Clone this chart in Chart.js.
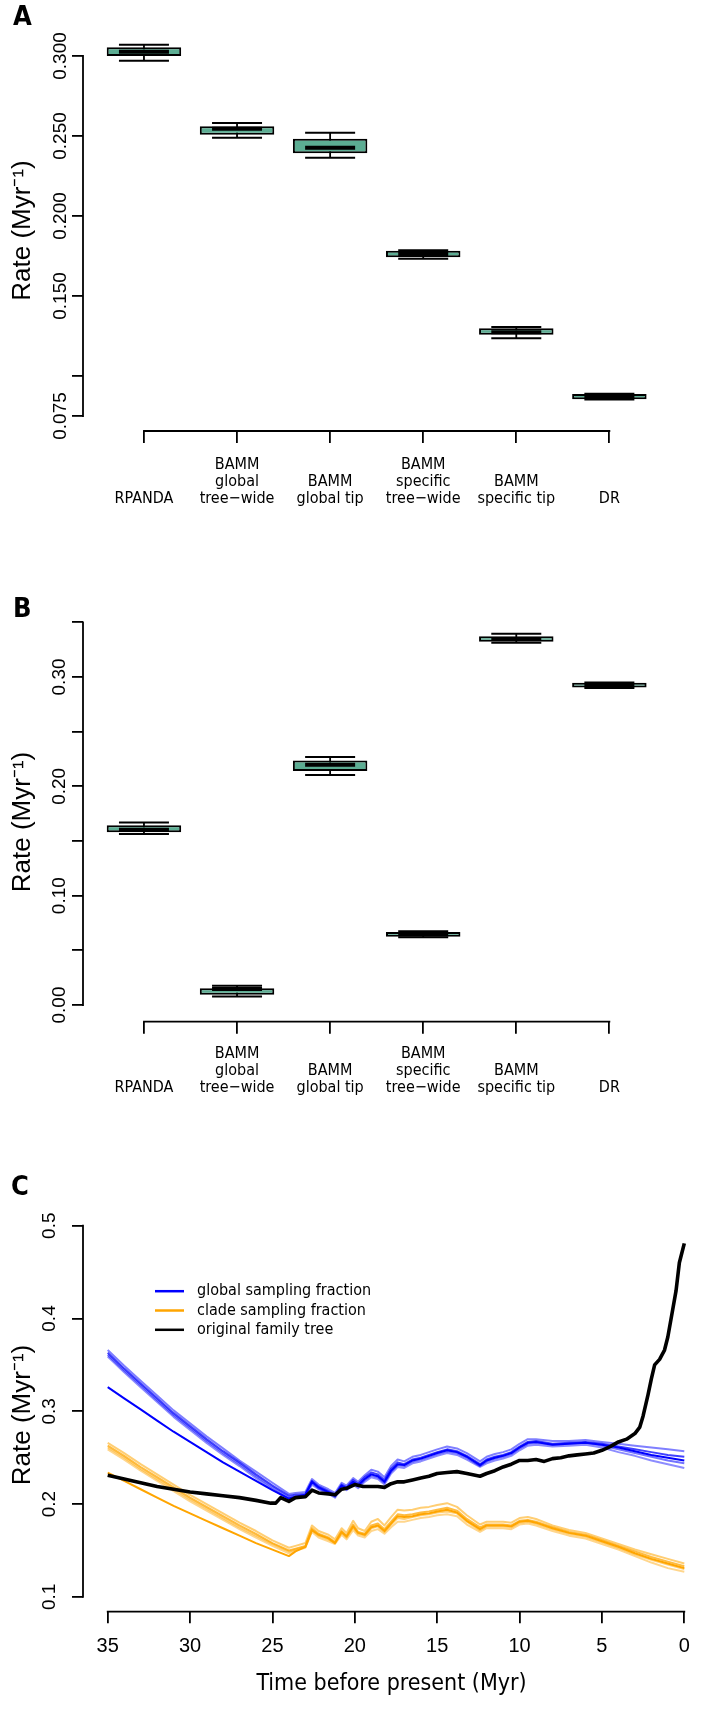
<!DOCTYPE html>
<html>
<head>
<meta charset="utf-8">
<script src="https://cdn.jsdelivr.net/npm/chart.js@4"></script>
<style>
  body { margin: 0; background: #fff; }
  #wrap { position: relative; width: 709px; height: 1730px; }
  canvas { position: absolute; left: 0; }
</style>
</head>
<body>
<div id="wrap">
  <canvas id="chartA" width="709" height="550" style="top:0"></canvas>
  <canvas id="chartB" width="709" height="550" style="top:560px"></canvas>
  <canvas id="chartC" width="709" height="620" style="top:1110px"></canvas>
</div>
<script>
// methods on the x axis of panels A and B (bottom-aligned lines)
const methods = [
  ['', '', 'RPANDA'],
  ['BAMM', 'global', 'tree−wide'],
  ['', 'BAMM', 'global tip'],
  ['BAMM', 'specific', 'tree−wide'],
  ['', 'BAMM', 'specific tip'],
  ['', '', 'DR']
];

// Panel A: box plot summaries
const aLow  = [0.2971, 0.2489, 0.2364, 0.1733, 0.1236, 0.0853];
const aQ1   = [0.3000, 0.2508, 0.2392, 0.1742, 0.1258, 0.0854];
const aMed  = [0.3027, 0.2546, 0.2427, 0.1763, 0.1273, 0.0871];
const aQ3   = [0.3054, 0.2561, 0.2483, 0.1783, 0.1298, 0.0888];
const aHigh = [0.3071, 0.2581, 0.2521, 0.1786, 0.1306, 0.0889];
const aTicks = [0.075, 0.1, 0.15, 0.2, 0.25, 0.3];
const aTickLabels = ['0.075', '', '0.150', '0.200', '0.250', '0.300'];

// Panel B
const bLow  = [0.1563, 0.0078, 0.2103, 0.0619, 0.3314, 0.2900];
const bQ1   = [0.1579, 0.0094, 0.2139, 0.0625, 0.3321, 0.2904];
const bMed  = [0.1602, 0.0147, 0.2198, 0.0648, 0.3347, 0.2924];
const bQ3   = [0.1644, 0.0153, 0.2237, 0.0667, 0.3373, 0.2947];
const bHigh = [0.1670, 0.0176, 0.2269, 0.0674, 0.3396, 0.2950];
const bTicks = [0, 0.05, 0.1, 0.15, 0.2, 0.25, 0.3, 0.35];
const bTickLabels = ['0.00', '', '0.10', '', '0.20', '', '0.30', ''];

// Panel C: rate through time
const time = [35, 34, 33, 32, 31, 30, 29, 28, 27, 26, 25, 24, 23.6, 23, 22.6, 22.2, 21.6, 21.2, 20.8, 20.5,
  20.1, 19.8, 19.4, 19.0, 18.6, 18.2, 17.8, 17.4, 17, 16.5, 16, 15.5, 15, 14.4, 13.8, 13.2, 12.4, 12, 11.5, 11,
  10.5, 10, 9.5, 9, 8, 7, 6, 5, 4, 3, 2, 1, 0];
const blueA = [0.366, 0.349, 0.333, 0.317, 0.301, 0.287, 0.273, 0.260, 0.247, 0.235, 0.223, 0.211, 0.212, 0.213, 0.227, 0.221, 0.216, 0.212, 0.223, 0.220,
  0.228, 0.224, 0.231, 0.237, 0.235, 0.229, 0.241, 0.248, 0.246, 0.251, 0.253, 0.256, 0.259, 0.262, 0.260, 0.255, 0.246, 0.251, 0.254, 0.256,
  0.259, 0.265, 0.270, 0.270, 0.268, 0.268, 0.269, 0.267, 0.265, 0.263, 0.261, 0.259, 0.257];
const blueB = [0.363, 0.346, 0.330, 0.314, 0.298, 0.284, 0.270, 0.257, 0.245, 0.232, 0.220, 0.209, 0.210, 0.211, 0.225, 0.219, 0.214, 0.210, 0.221, 0.218,
  0.226, 0.222, 0.229, 0.234, 0.232, 0.226, 0.238, 0.245, 0.243, 0.248, 0.250, 0.253, 0.256, 0.259, 0.257, 0.252, 0.243, 0.248, 0.251, 0.253,
  0.256, 0.262, 0.267, 0.268, 0.265, 0.266, 0.267, 0.265, 0.262, 0.259, 0.256, 0.253, 0.251];
const blueC = [0.361, 0.344, 0.328, 0.312, 0.296, 0.282, 0.268, 0.255, 0.243, 0.230, 0.218, 0.207, 0.208, 0.209, 0.223, 0.217, 0.212, 0.208, 0.219, 0.216,
  0.223, 0.219, 0.226, 0.231, 0.229, 0.223, 0.235, 0.242, 0.241, 0.246, 0.248, 0.251, 0.254, 0.257, 0.255, 0.250, 0.241, 0.246, 0.249, 0.251,
  0.254, 0.260, 0.265, 0.266, 0.264, 0.265, 0.266, 0.263, 0.259, 0.255, 0.251, 0.247, 0.244];
const blueD = [0.359, 0.342, 0.326, 0.310, 0.294, 0.280, 0.266, 0.253, 0.241, 0.228, 0.216, 0.205, 0.207, 0.208, 0.221, 0.216, 0.211, 0.207, 0.218, 0.215,
  0.221, 0.217, 0.224, 0.229, 0.227, 0.221, 0.233, 0.240, 0.239, 0.244, 0.246, 0.249, 0.252, 0.255, 0.253, 0.248, 0.240, 0.244, 0.247, 0.249,
  0.252, 0.258, 0.263, 0.264, 0.262, 0.263, 0.264, 0.261, 0.256, 0.252, 0.247, 0.243, 0.239];
const blueLow = [0.326, 0.314, 0.302, 0.290, 0.278, 0.267, 0.256, 0.245, 0.235, 0.225, 0.215, 0.206, 0.208, 0.210, 0.224, 0.218, 0.213, 0.209, 0.220, 0.217,
  0.224, 0.220, 0.227, 0.232, 0.230, 0.224, 0.236, 0.243, 0.242, 0.247, 0.249, 0.252, 0.255, 0.258, 0.256, 0.251, 0.242, 0.247, 0.250, 0.252,
  0.255, 0.261, 0.266, 0.267, 0.264, 0.265, 0.266, 0.264, 0.261, 0.257, 0.253, 0.250, 0.247];
const orangeA = [0.266, 0.255, 0.243, 0.232, 0.221, 0.210, 0.200, 0.190, 0.180, 0.171, 0.161, 0.153, 0.155, 0.158, 0.177, 0.171, 0.167, 0.162, 0.174, 0.169,
  0.182, 0.174, 0.171, 0.181, 0.184, 0.177, 0.186, 0.194, 0.193, 0.194, 0.196, 0.197, 0.199, 0.201, 0.197, 0.188, 0.178, 0.181, 0.181, 0.181,
  0.180, 0.185, 0.186, 0.184, 0.177, 0.172, 0.169, 0.163, 0.157, 0.151, 0.146, 0.141, 0.136];
const orangeB = [0.263, 0.252, 0.240, 0.229, 0.218, 0.207, 0.197, 0.187, 0.177, 0.168, 0.158, 0.150, 0.152, 0.155, 0.174, 0.168, 0.164, 0.159, 0.171, 0.166,
  0.178, 0.170, 0.168, 0.177, 0.179, 0.173, 0.181, 0.189, 0.188, 0.189, 0.191, 0.192, 0.194, 0.196, 0.193, 0.184, 0.175, 0.178, 0.178, 0.178,
  0.177, 0.182, 0.183, 0.181, 0.175, 0.170, 0.167, 0.161, 0.155, 0.149, 0.143, 0.138, 0.133];
const orangeC = [0.261, 0.250, 0.238, 0.227, 0.216, 0.205, 0.195, 0.185, 0.175, 0.166, 0.157, 0.149, 0.151, 0.154, 0.172, 0.166, 0.162, 0.158, 0.169, 0.164,
  0.175, 0.168, 0.166, 0.174, 0.176, 0.170, 0.178, 0.185, 0.184, 0.186, 0.188, 0.189, 0.191, 0.192, 0.190, 0.181, 0.172, 0.176, 0.176, 0.176,
  0.175, 0.180, 0.181, 0.179, 0.173, 0.168, 0.165, 0.159, 0.153, 0.146, 0.140, 0.135, 0.130];
const orangeD = [0.259, 0.248, 0.236, 0.225, 0.214, 0.203, 0.193, 0.183, 0.173, 0.164, 0.155, 0.147, 0.150, 0.153, 0.170, 0.164, 0.160, 0.157, 0.167, 0.162,
  0.172, 0.166, 0.164, 0.171, 0.173, 0.168, 0.175, 0.181, 0.181, 0.183, 0.185, 0.186, 0.188, 0.189, 0.187, 0.178, 0.170, 0.174, 0.174, 0.174,
  0.173, 0.178, 0.179, 0.177, 0.171, 0.166, 0.163, 0.157, 0.151, 0.144, 0.137, 0.131, 0.127];
const orangeLow = [0.234, 0.225, 0.216, 0.207, 0.198, 0.190, 0.182, 0.174, 0.166, 0.158, 0.151, 0.144, 0.149, 0.154, 0.172, 0.167, 0.163, 0.158, 0.170, 0.165,
  0.176, 0.169, 0.167, 0.175, 0.177, 0.171, 0.179, 0.187, 0.186, 0.187, 0.189, 0.190, 0.192, 0.194, 0.191, 0.182, 0.173, 0.177, 0.177, 0.177,
  0.176, 0.181, 0.182, 0.180, 0.174, 0.169, 0.166, 0.160, 0.154, 0.147, 0.141, 0.136, 0.131];
const blackTime = [35, 34, 33, 32, 31, 30, 29, 28, 27, 26, 25.1, 24.8, 24.5, 24, 23.6, 23, 22.6, 22.2, 21.6, 21.2, 20.8, 20.5,
  20, 19.5, 19, 18.6, 18.2, 17.8, 17.4, 17, 16.5, 16, 15.5, 15, 14.4, 13.8, 13.2, 12.4, 12, 11.5, 11, 10.5, 10, 9.5, 9, 8.5,
  8, 7.5, 7, 6.5, 6, 5.5, 5, 4.5, 4, 3.5, 3, 2.7, 2.5, 2.2, 2, 1.8, 1.5, 1.2, 1, 0.7, 0.5, 0.3, 0];
const blackRate = [0.231, 0.227, 0.223, 0.219, 0.216, 0.213, 0.211, 0.209, 0.207, 0.204, 0.201, 0.201, 0.207, 0.203, 0.207, 0.208, 0.215, 0.212, 0.211, 0.210, 0.216, 0.217,
  0.221, 0.219, 0.219, 0.219, 0.218, 0.222, 0.224, 0.224, 0.226, 0.228, 0.230, 0.233, 0.234, 0.235, 0.233, 0.230, 0.233, 0.236, 0.240, 0.243, 0.247, 0.247, 0.248, 0.246,
  0.249, 0.250, 0.252, 0.253, 0.254, 0.255, 0.258, 0.262, 0.267, 0.270, 0.276, 0.283, 0.295, 0.318, 0.335, 0.350, 0.356, 0.366, 0.380, 0.410, 0.430, 0.460, 0.481];
const cTicks = [0.1, 0.2, 0.3, 0.4, 0.5];
const cTickLabels = ['0.1', '0.2', '0.3', '0.4', '0.5'];
const timeTicks = [0, 5, 10, 15, 20, 25, 30, 35];
const legendLabels = ['global sampling fraction', 'clade sampling fraction', 'original family tree'];
const legendColors = ['#0000ff', '#ffa500', '#000000'];

const TEAL = '#5cad93';
const NARROW = '"Liberation Sans Narrow", "DejaVu Sans Condensed", "Liberation Sans", sans-serif';
const REGULAR = '"Liberation Sans", Arial, sans-serif';
Chart.defaults.color = '#000';
Chart.defaults.font.family = REGULAR;
Chart.defaults.animation = false;

// axis line only from the first to the last tick, like base R
const rAxes = {
  id: 'rAxes',
  afterDraw(chart) {
    const ctx = chart.ctx;
    ctx.save();
    ctx.strokeStyle = '#000';
    ctx.lineWidth = 1.8;
    ctx.lineCap = 'square';
    for (const scale of Object.values(chart.scales)) {
      const t = scale.ticks;
      const a = scale.getPixelForValue(t[0].value);
      const b = scale.getPixelForValue(t[t.length - 1].value);
      ctx.beginPath();
      if (scale.isHorizontal()) { ctx.moveTo(a, scale.top); ctx.lineTo(b, scale.top); }
      else { ctx.moveTo(scale.right, a); ctx.lineTo(scale.right, b); }
      ctx.stroke();
    }
    ctx.restore();
  }
};

// panel letter
const panelLetter = {
  id: 'panelLetter',
  afterDraw(chart, args, opts) {
    const ctx = chart.ctx;
    ctx.save();
    ctx.font = 'bold 27px ' + NARROW;
    ctx.fillStyle = '#000';
    ctx.textBaseline = 'middle';
    ctx.fillText(opts.text, opts.x, opts.y);
    ctx.restore();
  }
};

// legend of panel C (inside the plot, R style)
const rLegend = {
  id: 'rLegend',
  afterDraw(chart, args, opts) {
    if (!opts.labels) return;
    const ctx = chart.ctx;
    ctx.save();
    ctx.font = '16px ' + NARROW;
    ctx.textBaseline = 'middle';
    opts.labels.forEach((lab, i) => {
      const y = opts.y + i * opts.step;
      ctx.strokeStyle = opts.colors[i];
      ctx.lineWidth = 2.5;
      ctx.beginPath();
      ctx.moveTo(opts.x, y);
      ctx.lineTo(opts.x + 29, y);
      ctx.stroke();
      ctx.fillStyle = '#000';
      ctx.fillText(lab, opts.x + 42, y);
    });
    ctx.restore();
  }
};

function boxDatasets(low, q1, med, q3, high) {
  const stems = [], caps = [];
  low.forEach((v, i) => {
    stems.push({x: i + 1, y: v}, {x: i + 1, y: high[i]}, {x: i + 1, y: null});
    caps.push({x: i + 1, y: v}, {x: i + 1, y: high[i]});
  });
  return [
    { type: 'line', data: stems, borderColor: '#000', borderWidth: 1.8, pointRadius: 0, order: 3, clip: false },
    { type: 'bar', data: q1.map((v, i) => ({x: i + 1, y: [v, q3[i]]})), backgroundColor: TEAL,
      borderColor: '#000', borderWidth: 2, borderSkipped: false, grouped: false,
      categoryPercentage: 1, barPercentage: 0.8, order: 2 },
    { type: 'line', data: caps, showLine: false, pointStyle: 'line', pointRadius: 25,
      pointBorderWidth: 2, pointBorderColor: '#000', order: 1, clip: false },
    { type: 'line', data: med.map((v, i) => ({x: i + 1, y: v})), showLine: false, pointStyle: 'line',
      pointRadius: 25, pointBorderWidth: 4, pointBorderColor: '#000', order: 0, clip: false }
  ];
}

function boxChart(id, letter, data, yMin, yMax, ticks, tickLabels, topPad, xHeight, yPad, xPad) {
  return new Chart(document.getElementById(id), {
    type: 'bar',
    data: { datasets: boxDatasets(...data) },
    options: {
      responsive: false,
      layout: { padding: { top: topPad, right: 9, bottom: 0, left: 0 } },
      plugins: { legend: { display: false }, tooltip: { enabled: false },
        panelLetter: { text: letter.t, x: letter.x, y: letter.y } },
      scales: {
        x: {
          type: 'linear', offset: false, min: 0.3451, max: 6.7588,
          afterBuildTicks: s => { s.ticks = methods.map((m, i) => ({value: i + 1})); },
          afterFit: s => { s.height = xHeight; },
          grid: { display: true, offset: false, drawOnChartArea: false, drawTicks: true, tickLength: 12, color: '#000', lineWidth: 1.8 },
          border: { display: false },
          ticks: { autoSkip: false, maxRotation: 0, minRotation: 0, padding: xPad,
            font: { family: NARROW, size: 16, lineHeight: '16.7px' },
            callback: (v, i) => methods[i] }
        },
        y: {
          type: 'linear', min: yMin, max: yMax, beginAtZero: false,
          afterBuildTicks: s => { s.ticks = ticks.map(v => ({value: v})); },
          afterFit: s => { s.width = 83; },
          grid: { display: true, drawOnChartArea: false, drawTicks: true, tickLength: 11, color: '#000', lineWidth: 1.8 },
          border: { display: false },
          title: { display: true, text: 'Rate (Myr⁻¹)', font: { size: 26 }, padding: { top: 7, bottom: 0 } },
          ticks: { autoSkip: false, minRotation: 90, maxRotation: 90, crossAlign: 'center', padding: yPad,
            font: { size: 19 }, callback: (v, i) => tickLabels[i] }
        }
      }
    },
    plugins: [rAxes, panelLetter]
  });
}

boxChart('chartA', {t: 'A', x: 13, y: 17.5}, [aLow, aQ1, aMed, aQ3, aHigh],
  0.065625, 0.31625, aTicks, aTickLabels, 30, 119, -12.3, 13.6);
boxChart('chartB', {t: 'B', x: 13, y: 50}, [bLow, bQ1, bMed, bQ3, bHigh],
  -0.015274, 0.35, bTicks, bTickLabels, 62.3, 88.3, -6.5, 12);

function series(ts, vs) { return ts.map((t, i) => ({x: t, y: vs[i]})); }
function lineSet(ts, vs, color, width, order) {
  return { type: 'line', data: series(ts, vs), borderColor: color, borderWidth: width, pointRadius: 0,
    tension: 0, borderJoinStyle: 'round', order: order, clip: false };
}

new Chart(document.getElementById('chartC'), {
  type: 'line',
  data: {
    datasets: [
      lineSet(time, orangeA, 'rgba(255,165,0,0.55)', 2, 4),
      lineSet(time, orangeB, 'rgba(255,165,0,0.75)', 2, 4),
      lineSet(time, orangeC, 'rgba(255,165,0,0.55)', 2, 4),
      lineSet(time, orangeD, 'rgba(255,165,0,0.45)', 2, 4),
      lineSet(time, orangeLow, '#ffa500', 2, 4),
      lineSet(time, blueA, 'rgba(0,0,255,0.5)', 2, 3),
      lineSet(time, blueB, 'rgba(0,0,255,0.75)', 2, 3),
      lineSet(time, blueC, 'rgba(0,0,255,0.55)', 2, 3),
      lineSet(time, blueD, 'rgba(0,0,255,0.45)', 2, 3),
      lineSet(time, blueLow, '#0000ff', 2, 3),
      lineSet(blackTime, blackRate, '#000000', 3.6, 1)
    ]
  },
  options: {
    responsive: false,
    layout: { padding: { top: 108.3, right: 9, bottom: 0, left: 0 } },
    plugins: { legend: { display: false }, tooltip: { enabled: false },
      panelLetter: { text: 'C', x: 11, y: 78 },
      rLegend: { labels: legendLabels, colors: legendColors, x: 155, y: 181.2, step: 19.3 } },
    scales: {
      x: {
        type: 'linear', reverse: true, min: -0.953, max: 36.4993,
        afterBuildTicks: s => { s.ticks = timeTicks.map(v => ({value: v})); },
        afterFit: s => { s.height = 118.3; },
        grid: { display: true, drawOnChartArea: false, drawTicks: true, tickLength: 11.6, color: '#000', lineWidth: 1.8 },
        border: { display: false },
        title: { display: true, text: 'Time before present (Myr)', font: { family: NARROW, size: 23 }, padding: { top: 0, bottom: 32 } },
        ticks: { autoSkip: false, maxRotation: 0, padding: 11, font: { size: 20 }, callback: v => String(v) }
      },
      y: {
        type: 'linear', min: 0.08405, max: 0.50797,
        afterBuildTicks: s => { s.ticks = cTicks.map(v => ({value: v})); },
        afterFit: s => { s.width = 83; },
        grid: { display: true, drawOnChartArea: false, drawTicks: true, tickLength: 11, color: '#000', lineWidth: 1.8 },
        border: { display: false },
        title: { display: true, text: 'Rate (Myr⁻¹)', font: { size: 26 }, padding: { top: 7, bottom: 0 } },
        ticks: { autoSkip: false, minRotation: 90, maxRotation: 90, crossAlign: 'center', padding: 8.8,
          font: { size: 19 }, callback: (v, i) => cTickLabels[i] }
      }
    }
  },
  plugins: [rAxes, panelLetter, rLegend]
});
</script>
</body>
</html>
